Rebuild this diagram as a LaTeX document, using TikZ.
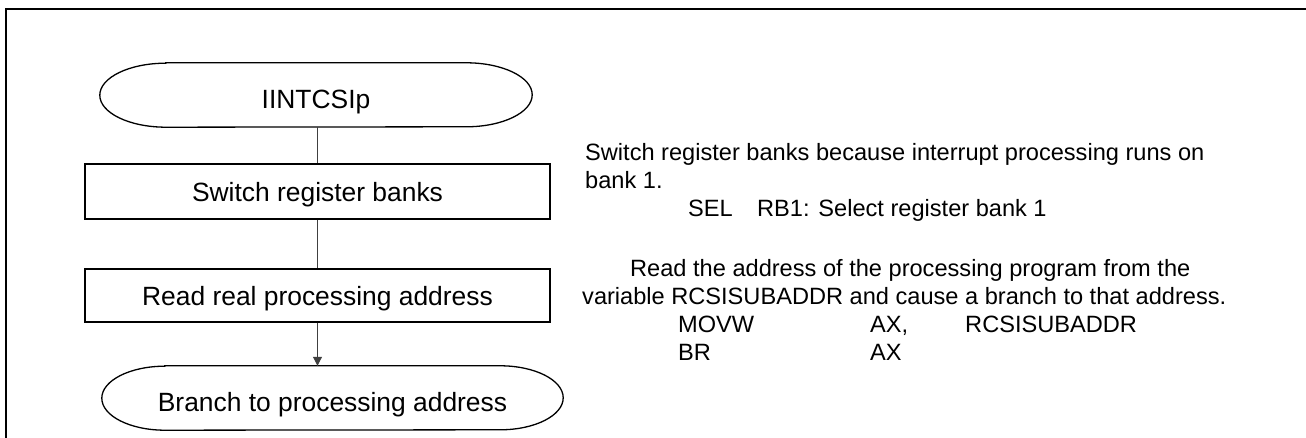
\documentclass[tikz,border=0pt]{standalone}
\usepackage{fontspec}
\setmainfont{Liberation Sans}
\usetikzlibrary{arrows.meta}
\newcommand\termshape[2]{%
  \draw[line width=1.3pt] ([xshift=#2pt]#1.north west) -- ([xshift=-#2pt]#1.north east)
    arc[start angle=90,end angle=-90,x radius=#2pt,y radius=32pt]
    -- ([xshift=#2pt]#1.south west)
    arc[start angle=270,end angle=90,x radius=#2pt,y radius=32pt] -- cycle;}
\begin{document}
\begin{tikzpicture}[x=1pt,y=1pt,
  flow/.style={font=\fontsize{26.4}{30}\selectfont, text height=20pt, text depth=0pt, inner sep=0pt},
  procbox/.style={flow, draw, line width=1.3pt, minimum width=465pt},
  term/.style={flow, text height=26.5pt, minimum width=#1, minimum height=64pt},
  note/.style={font=\fontsize{23.6}{28}\selectfont, anchor=base west, inner sep=0pt},
  conn/.style={line width=1pt, draw=black!75},
]
\useasboundingbox (0,0) rectangle (1306,438);
\draw[line width=2pt] (6,-20) -- (6,429) -- (1330,429);

\node[term=432pt] (t1) at (316,343) {IINTCSIp};
\termshape{t1}{66}
\node[procbox, minimum height=55pt] (b1) at (317.5,246.5) {Switch register banks};
\node[procbox, minimum height=53pt] (b2) at (317.5,142.5) {Read real processing address};
\node[term=461pt] (t2) at (332.5,40) {Branch to processing address};
\termshape{t2}{63}

\draw[conn] (b1.north |- t1.south) -- (b1.north);
\draw[conn] (b1.south) -- (b2.north);
\draw[conn, fill=black!75, -{Triangle[length=9pt,width=9pt]}] (b2.south) -- (b2.south |- t2.north);

\node[note] (n1) at (585,277) {Switch register banks because interrupt processing runs on};
\node[note] (n2) at (585,249) {bank 1.};
\node[note] (n3) at (688,221) {SEL};
\node[note] (n4) at (757,221) {RB1: Select register bank 1};
\node[note] (n5) at (630,161) {Read the address of the processing program from the};
\node[note] (n6) at (582,133) {variable RCSISUBADDR and cause a branch to that address.};
\node[note] (n7) at (678,105) {MOVW};
\node[note] (n8) at (870,105) {AX,};
\node[note] (n9) at (965,105) {RCSISUBADDR};
\node[note] (n10) at (678,77) {BR};
\node[note] (n11) at (870,77) {AX};
\end{tikzpicture}
\end{document}
